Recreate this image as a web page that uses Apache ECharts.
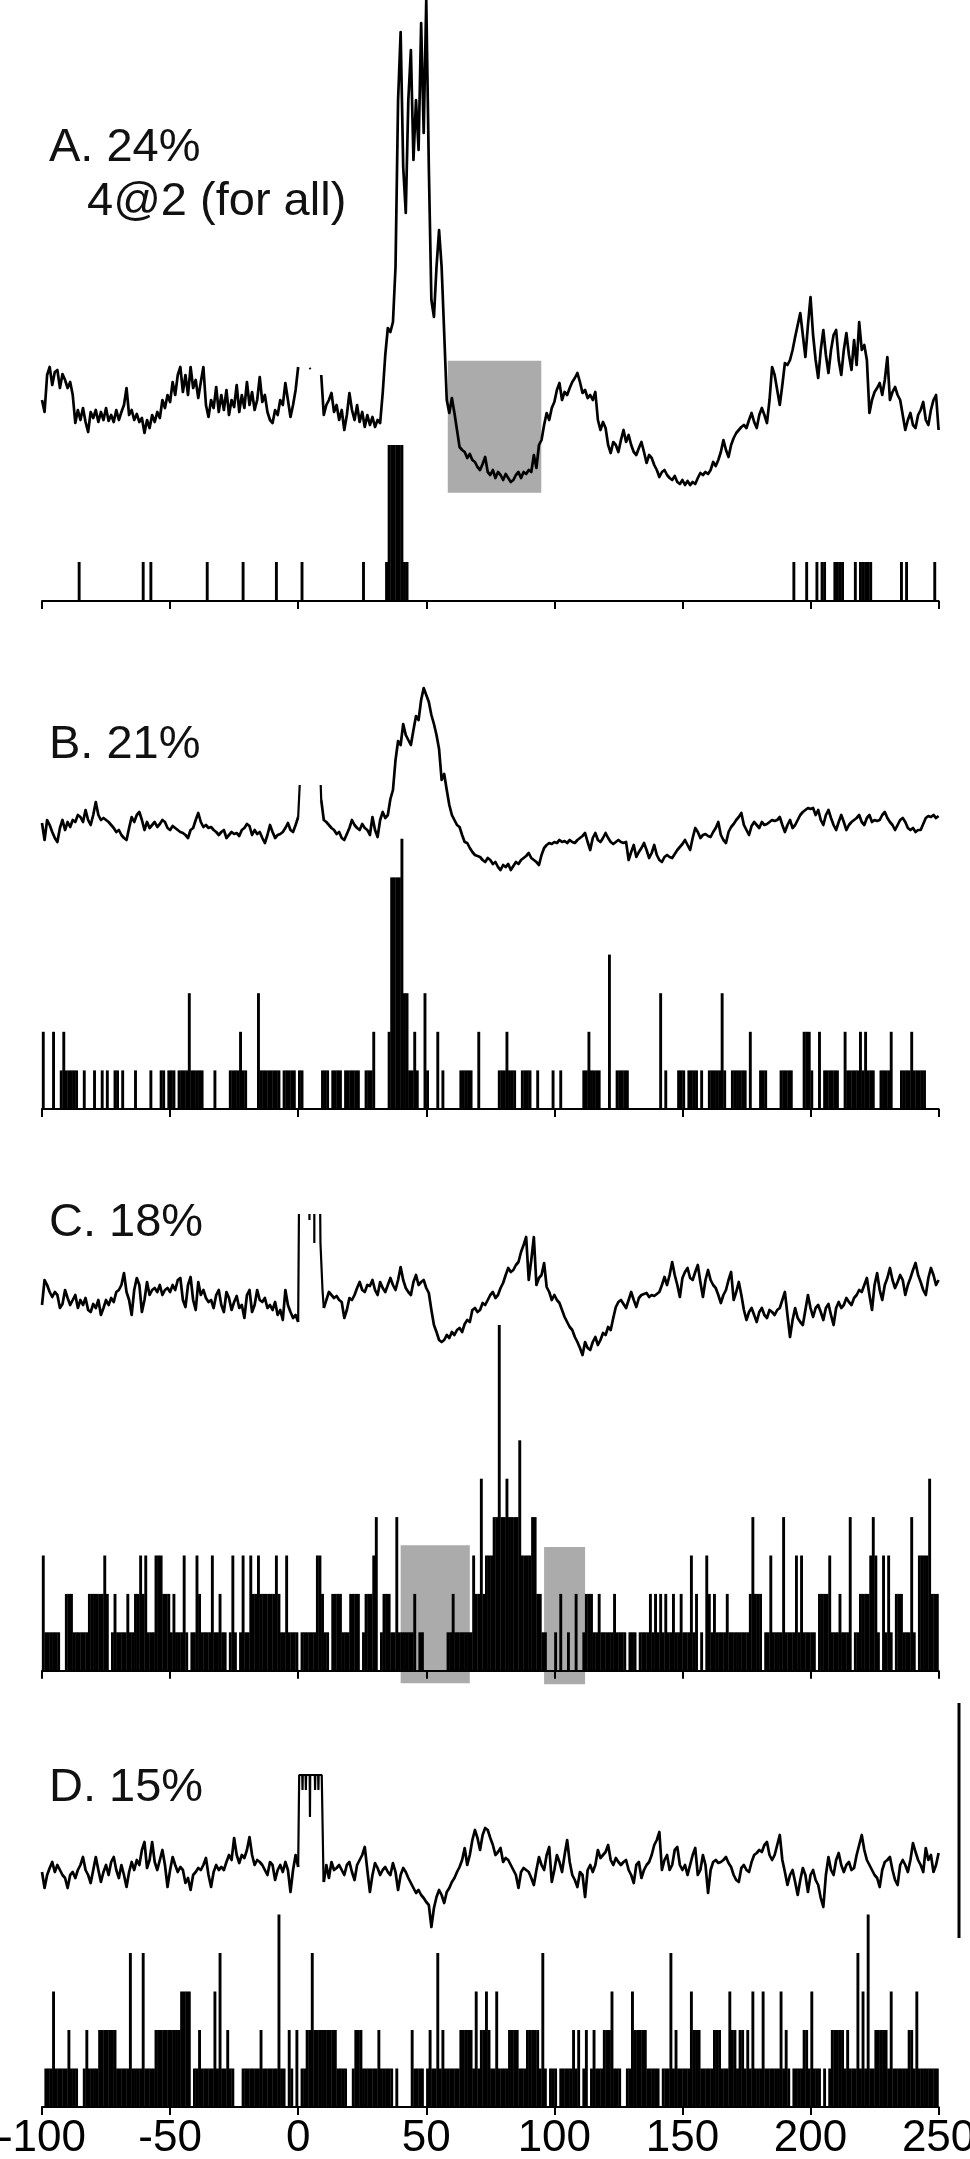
<!DOCTYPE html>
<html>
<head>
<meta charset="utf-8">
<script src="https://cdn.jsdelivr.net/npm/echarts@6/dist/echarts.min.js"></script>
<style>
  html, body { margin: 0; padding: 0; background: #fff; }
  #main { width: 970px; height: 2159px; }
</style>
</head>
<body>
<div id="main"></div>
<script>
// membrane potential traces, one value per ms from -100 to 250 (arbitrary units, null = blanked artifact)
const traceA = [
  100, 88, 125, 133, 115, 128, 130, 112, 126, 120,
  112, 118, 105, 77, 90, 80, 92, 78, 68, 88,
  82, 90, 78, 88, 80, 92, 79, 85, 78, 90,
  80, 88, 95, 112, 85, 90, 80, 86, 78, 82,
  67, 80, 72, 85, 78, 88, 82, 100, 92, 105,
  98, 118, 105, 125, 133, 108, 125, 105, 133, 112,
  120, 102, 118, 133, 95, 83, 100, 92, 113, 88,
  105, 90, 110, 85, 100, 93, 115, 88, 105, 92,
  118, 95, 108, 90, 100, 123, 98, 105, 88, 80,
  77, 90, 85, 100, 95, 117, 100, 83, 95, 110,
  133, null, null, null, null, null, null, null, null, 125,
  85, 95, 100, 107, 88, 95, 80, 90, 70, 85,
  107, 90, 80, 95, 78, 88, 73, 85, 75, 83,
  73, 80, 77, 107, 145, 172, 168, 178, 233, 400,
  468, 333, 287, 400, 450, 340, 400, 350, 477, 367,
  500, 333, 200, 183, 233, 270, 233, 167, 100, 87,
  102, 87, 70, 53, 50, 48, 42, 46, 40, 38,
  33, 30, 36, 43, 28, 25, 30, 22, 28, 25,
  20, 26, 22, 18, 20, 25, 28, 22, 28, 26,
  30, 28, 45, 32, 55, 60, 75, 87, 80, 92,
  98, 110, 117, 100, 108, 105, 112, 118, 122, 127,
  118, 107, 110, 102, 105, 100, 108, 80, 70, 78,
  72, 55, 47, 58, 55, 48, 60, 70, 58, 65,
  55, 48, 45, 52, 58, 48, 37, 45, 42, 35,
  30, 23, 28, 30, 25, 22, 20, 24, 18, 16,
  20, 15, 19, 15, 18, 16, 22, 27, 25, 28,
  26, 30, 38, 34, 40, 48, 60, 50, 43, 55,
  62, 67, 70, 73, 75, 72, 80, 87, 78, 72,
  85, 92, 85, 77, 100, 133, 125, 110, 95, 115,
  137, 135, 140, 150, 163, 175, 187, 165, 143, 175,
  203, 165, 140, 122, 150, 170, 145, 127, 150, 165,
  170, 140, 125, 150, 167, 145, 130, 160, 135, 178,
  150, 155, 140, 87, 100, 108, 112, 117, 105, 120,
  143, 100, 108, 113, 105, 100, 85, 70, 80, 87,
  75, 72, 85, 90, 98, 80, 75, 90, 100, 105,
  70
];
const traceB = [
  77, 60, 80, 75, 68, 62, 58, 72, 80, 70,
  78, 73, 80, 78, 85, 83, 78, 90, 80, 75,
  85, 98, 85, 80, 82, 80, 78, 75, 72, 68,
  70, 65, 62, 60, 72, 83, 78, 85, 88, 80,
  70, 78, 72, 75, 78, 73, 76, 80, 78, 72,
  70, 74, 72, 70, 68, 67, 65, 62, 70, 72,
  80, 87, 78, 73, 75, 72, 73, 70, 68, 65,
  68, 70, 62, 65, 68, 66, 67, 64, 70, 72,
  76, 74, 65, 70, 66, 68, 62, 57, 65, 75,
  68, 62, 65, 66, 68, 72, 77, 70, 68, 75,
  83, null, null, null, null, null, null, null, null, 100,
  80, 78, 75, 72, 70, 66, 68, 62, 60, 66,
  72, 80, 75, 72, 70, 76, 72, 70, 65, 83,
  70, 63, 80, 88, 82, 85, 101, 110, 140, 159,
  155, 176, 165, 160, 155, 170, 184, 180, 200, 212,
  205, 198, 185, 176, 165, 151, 120, 126, 110, 95,
  85, 80, 75, 73, 65, 58, 57, 52, 48, 45,
  44, 43, 40, 38, 42, 40, 36, 38, 33, 30,
  35, 33, 36, 30, 34, 38, 36, 40, 42, 44,
  47, 42, 40, 38, 35, 45, 52, 55, 57, 56,
  58, 57, 60, 58, 59, 57, 60, 58, 57, 60,
  62, 64, 67, 58, 50, 62, 67, 60, 58, 62,
  67, 62, 58, 56, 58, 60, 58, 57, 58, 40,
  48, 55, 43, 48, 52, 57, 50, 42, 47, 55,
  45, 40, 38, 43, 45, 43, 42, 46, 50, 53,
  56, 60, 55, 50, 62, 72, 68, 62, 65, 66,
  64, 63, 68, 72, 78, 65, 60, 57, 68, 73,
  76, 80, 83, 87, 75, 70, 65, 74, 78, 75,
  72, 78, 75, 76, 78, 80, 79, 80, 83, 75,
  68, 75, 80, 72, 75, 80, 85, 88, 90, 92,
  91, 92, 85, 90, 80, 75, 85, 90, 82, 75,
  70, 78, 85, 78, 70, 75, 78, 80, 82, 85,
  78, 75, 82, 85, 78, 80, 79, 80, 85, 88,
  82, 78, 75, 70, 75, 80, 82, 78, 72, 70,
  72, 68, 70, 70, 76, 82, 84, 83, 85, 82,
  84
];
const traceC = [
  65, 90, 85, 78, 73, 78, 75, 62, 66, 80,
  72, 65, 70, 75, 62, 70, 65, 72, 60, 58,
  66, 62, 70, 55, 62, 70, 65, 72, 68, 78,
  80, 85, 97, 78, 70, 55, 80, 92, 85, 58,
  70, 88, 75, 80, 82, 78, 85, 75, 80, 82,
  78, 85, 80, 90, 92, 70, 63, 85, 93, 70,
  60, 88, 75, 80, 72, 68, 70, 62, 75, 80,
  65, 58, 78, 72, 60, 68, 74, 62, 65, 52,
  75, 80, 58, 65, 80, 70, 68, 72, 62, 65,
  60, 68, 55, 60, 50, 80, 65, 58, 52, 55,
  48, null, null, null, null, null, null, null, null, null,
  62, 70, 78, 75, 72, 74, 70, 68, 52, 60,
  72, 70, 75, 82, 88, 80, 78, 85, 84, 90,
  80, 75, 88, 82, 78, 85, 92, 85, 80, 90,
  103, 90, 82, 78, 75, 88, 95, 85, 88, 90,
  82, 77, 60, 45, 38, 30, 28, 30, 35, 32,
  38, 35, 40, 42, 38, 46, 50, 48, 60, 62,
  58, 60, 67, 65, 70, 75, 78, 72, 75, 82,
  87, 95, 102, 98, 100, 105, 108, 118, 125, 133,
  90, 110, 133, 85, 92, 95, 107, 83, 78, 70,
  75, 70, 67, 60, 53, 48, 43, 40, 33, 28,
  22, 15, 28, 22, 20, 28, 33, 25, 30, 37,
  35, 43, 40, 52, 63, 68, 70, 66, 62, 70,
  78, 70, 63, 72, 75, 76, 77, 73, 75, 74,
  76, 78, 85, 93, 85, 95, 108, 95, 85, 73,
  92, 98, 102, 92, 90, 98, 105, 88, 73, 90,
  100, 90, 85, 82, 75, 67, 75, 80, 90, 98,
  70, 78, 88, 75, 60, 50, 58, 62, 55, 48,
  58, 62, 55, 52, 60, 58, 55, 60, 62, 70,
  78, 55, 33, 50, 62, 52, 48, 45, 60, 75,
  62, 53, 62, 65, 58, 50, 62, 66, 55, 45,
  62, 68, 62, 65, 72, 68, 65, 72, 75, 80,
  78, 85, 92, 75, 60, 85, 97, 80, 70, 85,
  92, 102, 90, 82, 88, 95, 90, 75, 85, 92,
  100, 107, 95, 88, 80, 75, 92, 102, 95, 85,
  90
];
const traceD = [
  28, 12, 25, 32, 38, 28, 35, 30, 25, 22,
  12, 25, 28, 22, 30, 35, 43, 30, 25, 17,
  30, 43, 30, 18, 28, 35, 25, 38, 43, 30,
  22, 35, 25, 13, 28, 38, 30, 40, 35, 50,
  58, 32, 40, 58, 38, 30, 40, 50, 35, 13,
  30, 43, 35, 28, 33, 30, 17, 22, 10, 25,
  28, 32, 30, 35, 42, 25, 13, 28, 35, 30,
  33, 30, 38, 45, 40, 62, 45, 37, 45, 42,
  50, 63, 45, 35, 40, 38, 35, 30, 25, 38,
  35, 20, 30, 35, 28, 38, 30, 8, 30, 45,
  33, null, null, null, null, null, null, null, null, null,
  18, 35, 22, 38, 30, 32, 35, 30, 25, 35,
  38, 28, 20, 35, 40, 45, 53, 30, 8, 25,
  37, 32, 25, 30, 33, 28, 25, 37, 28, 10,
  25, 32, 28, 22, 17, 12, 7, 10, 5, 2,
  -2, -5, -27, -8, 3, 10, 5, -3, 8, 12,
  18, 22, 28, 33, 40, 52, 35, 45, 60, 70,
  62, 50, 65, 72, 70, 62, 55, 45, 48, 52,
  38, 42, 40, 35, 30, 25, 12, 28, 32, 30,
  28, 22, 15, 30, 43, 35, 30, 45, 53, 18,
  30, 45, 38, 28, 45, 60, 38, 25, 20, 13,
  28, 25, 3, 30, 35, 28, 35, 50, 42, 45,
  48, 55, 40, 35, 42, 38, 35, 38, 40, 30,
  25, 17, 35, 38, 22, 30, 35, 38, 45, 55,
  60, 68, 30, 40, 45, 30, 35, 50, 53, 35,
  30, 35, 25, 35, 45, 52, 25, 30, 45, 35,
  7, 30, 38, 40, 37, 38, 40, 43, 37, 33,
  25, 20, 18, 32, 35, 30, 28, 38, 45, 47,
  50, 48, 55, 58, 45, 40, 45, 55, 65, 40,
  28, 15, 25, 30, 18, 5, 20, 32, 25, 8,
  25, 30, 20, 15, 2, -7, 25, 43, 30, 25,
  40, 47, 35, 28, 35, 38, 30, 32, 45, 55,
  65, 50, 40, 35, 30, 25, 22, 13, 30, 38,
  40, 43, 30, 20, 15, 35, 40, 35, 28, 40,
  57, 48, 40, 35, 28, 52, 40, 45, 28, 35,
  47
];

// stimulus artifact pieces drawn around 0-10 ms, [ms, value], null breaks the line
const artifactA = [[4.4, 132], [4.9, 131]];
const artifactB = [[0, 83], [0.6, 115], [4, null], [8.8, 115], [9, 100]];
const artifactC = [[0, 48], [0.3, 156], [2, null], [4.4, 156], [4.4, 150], [5, null],
  [6.3, 156], [6.3, 127], [7, null], [8.6, 156], [8.7, 127], [9.5, 80], [10, 62]];
const artifactD = [[0, 33], [0.4, 125], [1.6, 125], [1.7, 110], [1.8, 125], [2.9, 125], [3.0, 110],
  [3.1, 125], [4.5, 125], [4.6, 83], [4.7, 125], [6.5, 125], [6.6, 110], [6.7, 125], [7.8, 125],
  [7.9, 110], [8.0, 125], [9.2, 125], [9.9, 20], [10, 18]];

// spike counts per 1 ms bin, bins -100..249 (one digit per bin, grouped by 10)
const countsA = '0000000000 0000100000 0000000000 0000000001 0010000000 0000000000 0000100000 ' +
  '0000000010 0000000000 0100000000 0100000000 0000000000 0000010000 0000144444 4110000000 ' +
  '0000000000 0000000000 0000000000 0000000000 0000000000 0000000000 0000000000 0000000000 ' +
  '0000000000 0000000000 0000000000 0000000000 0000000000 0000000000 0001000010 0010110001 ' +
  '1110000101 1111000000 0000010100 0000000010';
const countsB = '2000200121 1111001000 1001010011 0100001000 0010001101 1101111311 1110000100 ' +
  '0001111211 0000311111 1110111110 1100000001 1101111011 1111001112 0000026666 7331121003 ' +
  '1000201000 0001111100 2000000011 1211100111 1001000001 0010000000 0112111100 0400111110 ' +
  '0000000000 0301000011 1011110100 1111131001 1111102000 1110000011 1110000222 1002011111 ' +
  '1002111112 1211100111 1200011112 1111100000';
const countsC = '3111111002 2211111122 2222320121 1112112232 3111333222 1211131011 3211113112 ' +
  '1101310131 1322322222 2321131111 0111111332 1102222111 2222012223 4012221141 1111120110 ' +
  '0000000011 2111111132 2523334494 4544446333 3442211000 1020010020 0122211211 1112111101 ' +
  '1101111212 1212112112 1113120103 2121111211 1111112422 2011311114 1111313111 1102222311 ' +
  '1211140112 2223431031 3102221114 1033335222';
const countsD = '0111311111 2111001211 1122222221 1111411114 1111222222 2222333301 1211111314 ' +
  '1121100011 1111121111 1151102102 0112242222 2222211110 0122211111 1211111010 0000211110 ' +
  '1211412111 1112222213 1223211311 1122221112 2222141011 1011111212 0120121112 2231110011 ' +
  '3222221111 1011141211 1113222111 1122211132 2122121311 1311111131 2101111221 3111010122 ' +
  '2221211141 3151122222 1311111122 1311111111';

// shaded windows: [from ms, to ms, low, high]
const shadeA = [[58.4, 94.9, 7.3, 139.3]];
const shadeC = [[40, 67, -0.33, 3.27], [96, 112, -0.35, 3.22]];

const panelLabels = ['A. 24%', 'B. 21%', 'C. 18%', 'D. 15%'];
const noteA = '4@2 (for all)';
const xTicks = [-100, -50, 0, 50, 100, 150, 200, 250];

function tracePairs(vals) {
  return vals.map((v, i) => [i - 100, v]);
}
function countBars(str) {
  return str.replace(/\s/g, '').split('').map((c, i) => [i - 100 + 0.5, +c]).filter(d => d[1] > 0);
}
function shadeData(list) {
  return list.map(s => [{ xAxis: s[0], yAxis: s[2] }, { xAxis: s[1], yAxis: s[3] }]);
}

const chart = echarts.init(document.getElementById('main'), null, { renderer: 'canvas' });

const L = 42, W = 896.6;
const FONT = '"Liberation Sans", Arial, Helvetica, sans-serif';

// trace grids and histogram grids, top to bottom
const gridBoxes = [
  { top: 0, height: 500 },        // A trace
  { top: 406, height: 195 },      // A counts
  { top: 650, height: 250 },      // B trace
  { top: 800.2, height: 308.8 },  // B counts
  { top: 1200, height: 170 },     // C trace
  { top: 1286.7, height: 403.2 }, // C counts
  { top: 1760, height: 180 },     // D trace
  { top: 1876, height: 231 }      // D counts
];
const yRanges = [[0, 500], [0, 5], [0, 250], [0, 8], [0, 170], [-0.5, 10], [-40, 140], [0, 6]];

const grids = gridBoxes.map(g => ({
  left: L, width: W, top: g.top, height: g.height,
  containLabel: false, outerBoundsMode: 'none'
}));

const xAxes = gridBoxes.map((g, i) => {
  const isHist = i % 2 === 1;
  return {
    type: 'value', gridIndex: i, min: -100, max: 250, interval: 50,
    show: isHist, z: 5,
    axisLine: { show: true, onZero: true, lineStyle: { color: '#000', width: 2 } },
    axisTick: { show: true, length: 8, inside: false, lineStyle: { color: '#000', width: 2 } },
    axisLabel: {
      show: i === 7, color: '#000', fontSize: 44, fontFamily: FONT, margin: 10,
      formatter: v => String(v)
    },
    splitLine: { show: false }
  };
});

const yAxes = yRanges.map((r, i) => ({
  type: 'value', gridIndex: i, min: r[0], max: r[1], show: false, splitLine: { show: false }
}));

const traces = [traceA, traceB, traceC, traceD];
const artifacts = [artifactA, artifactB, artifactC, artifactD];
const counts = [countsA, countsB, countsC, countsD];

const series = [];
for (let p = 0; p < 4; p++) {
  const tg = p * 2, hg = p * 2 + 1;
  const line = {
    type: 'line', xAxisIndex: tg, yAxisIndex: tg, data: tracePairs(traces[p]),
    showSymbol: false, symbol: 'none', connectNulls: false, z: 3,
    lineStyle: { color: '#000', width: 2.7, join: 'round' }
  };
  if (p === 0) {
    line.markArea = { silent: true, z: 1, itemStyle: { color: '#ababab' }, data: shadeData(shadeA) };
  }
  series.push(line);
  series.push({
    type: 'line', xAxisIndex: tg, yAxisIndex: tg, data: artifacts[p],
    showSymbol: false, symbol: 'none', connectNulls: false, clip: false, z: 3,
    lineStyle: { color: '#000', width: 2.2 }
  });
  const bars = {
    type: 'bar', xAxisIndex: hg, yAxisIndex: hg, data: countBars(counts[p]),
    barWidth: 2.9, z: 2, itemStyle: { color: '#000' }
  };
  if (p === 2) {
    bars.markArea = { silent: true, z: 1, itemStyle: { color: '#ababab' }, data: shadeData(shadeC) };
  }
  series.push(bars);
}

const labelTops = [125, 722, 1200, 1765];
const graphics = panelLabels.map((t, i) => ({
  type: 'text', left: 49, top: labelTops[i], z: 10,
  style: { text: t, fontSize: 47, fontFamily: FONT, fill: '#111' }
}));
graphics.push({
  type: 'text', left: 87, top: 179, z: 10,
  style: { text: noteA, fontSize: 47, fontFamily: FONT, fill: '#111' }
});
// vertical scale bar at the right
graphics.push({
  type: 'line', z: 10,
  shape: { x1: 959, y1: 1703, x2: 959, y2: 1938 },
  style: { stroke: '#000', lineWidth: 3 }
});

chart.setOption({
  animation: false,
  backgroundColor: '#fff',
  grid: grids,
  xAxis: xAxes,
  yAxis: yAxes,
  series: series,
  graphic: graphics
});
</script>
</body>
</html>
